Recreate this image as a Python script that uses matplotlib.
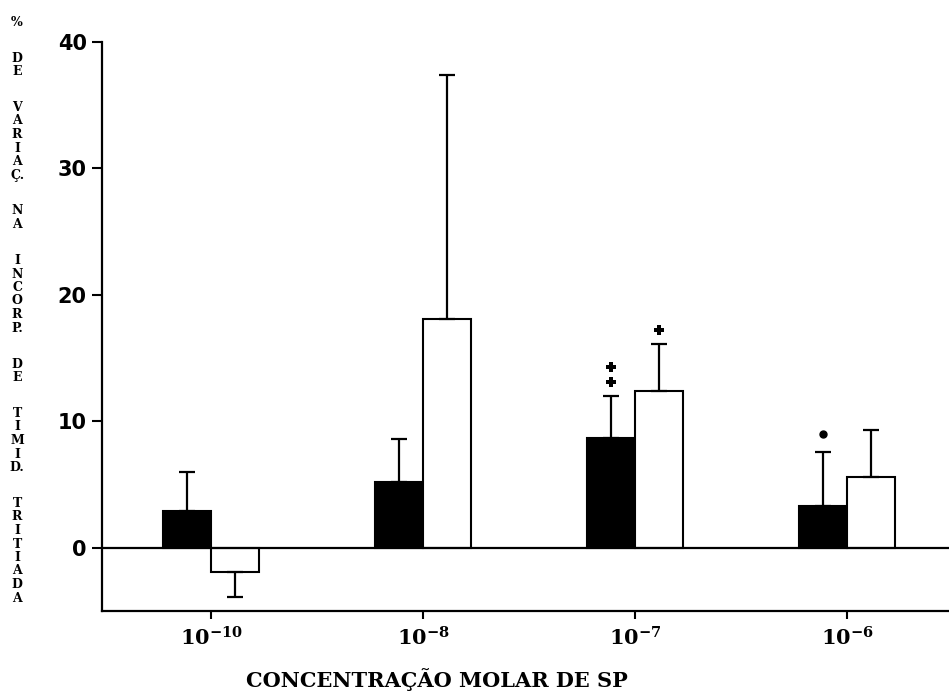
import numpy as np
import matplotlib
matplotlib.use("Agg")
import matplotlib.pyplot as plt

# data
concs = ["10^{-10}", "10^{-8}", "10^{-7}", "10^{-6}"]
black_vals = [2.9, 5.2, 8.7, 3.3]
black_err = [3.1, 3.4, 3.3, 4.3]
white_vals = [-1.9, 18.1, 12.4, 5.6]
white_err = [2.0, 19.3, 3.7, 3.7]
# significance marks: (group index, series, symbol)
marks = [(2, "black", "++"), (2, "white", "+"), (3, "black", "dot")]

ylabel_words = ["%", "DE", "VARIAÇ.", "NA", "INCORP.", "DE", "TIMID.", "TRITIADA"]

plt.rcParams['font.family'] = ['DejaVu Serif']
plt.rcParams['mathtext.fontset'] = 'dejavuserif'

fig = plt.figure(figsize=(9.49, 6.93), dpi=100)
ax = fig.add_axes([0.1075, 0.1183, 0.8925, 0.8211])

x = np.arange(len(concs))
w = 0.227


def one_sided(vals, errs):
    lo = [e if v < 0 else 0 for v, e in zip(vals, errs)]
    hi = [e if v >= 0 else 0 for v, e in zip(vals, errs)]
    return [lo, hi]


ekw = dict(ecolor='black', elinewidth=1.6, capsize=6, capthick=1.6)
ax.bar(x - w / 2, black_vals, w, color='black', edgecolor='black', linewidth=1.5,
       yerr=one_sided(black_vals, black_err), error_kw=ekw, zorder=2)
ax.bar(x + w / 2, white_vals, w, color='white', edgecolor='black', linewidth=1.5,
       yerr=one_sided(white_vals, white_err), error_kw=ekw, zorder=2)

ax.axhline(0, color='black', lw=1.6, zorder=3)

# significance symbols above the error bars
for i, series, sym in marks:
    if series == "black":
        xc, top = x[i] - w / 2, black_vals[i] + black_err[i]
    else:
        xc, top = x[i] + w / 2, white_vals[i] + white_err[i]
    if sym == "dot":
        ax.plot(xc, top + 1.4, 'o', color='black', ms=5)
    else:
        for k in range(len(sym)):
            ax.plot(xc, top + 1.0 + 1.2 * (len(sym) - 1 - k) + 0.1, 'P',
                    color='black', ms=7, markeredgewidth=0)

ax.set_xlim(-0.514, 3.48)
ax.set_ylim(-5, 40)
ax.set_yticks([0, 10, 20, 30, 40])
ax.set_yticklabels(["0", "10", "20", "30", "40"], fontsize=15, fontweight='bold',
                   family='DejaVu Sans')
ax.set_xticks(x)
ax.set_xticklabels([r"$\mathbf{" + c + "}$" for c in concs], fontsize=15)

for s in ['top', 'right']:
    ax.spines[s].set_visible(False)
for s in ['left', 'bottom']:
    ax.spines[s].set_linewidth(1.6)
ax.tick_params(axis='y', direction='out', length=7, width=1.5, pad=4)
ax.tick_params(axis='x', direction='out', length=6, width=1.5, pad=5)

fig.text(0.46, 0.02, "CONCENTRAÇÃO MOLAR DE SP", ha='center', va='center',
         fontsize=15, fontweight='bold')

# stacked vertical y label, one letter under the other
H = 693.0
step, gap = 13.5, 36.0
ypix = 22.0
for word in ylabel_words:
    letters = []
    for ch in word:
        if ch == '.' and letters:
            letters[-1] += '.'
        else:
            letters.append(ch)
    for ch in letters:
        fig.text(0.018, 1 - ypix / H, ch, ha='center', va='center',
                 fontsize=9, fontweight='bold')
        ypix += step
    ypix += gap - step

fig.savefig("out.png", dpi=100)
